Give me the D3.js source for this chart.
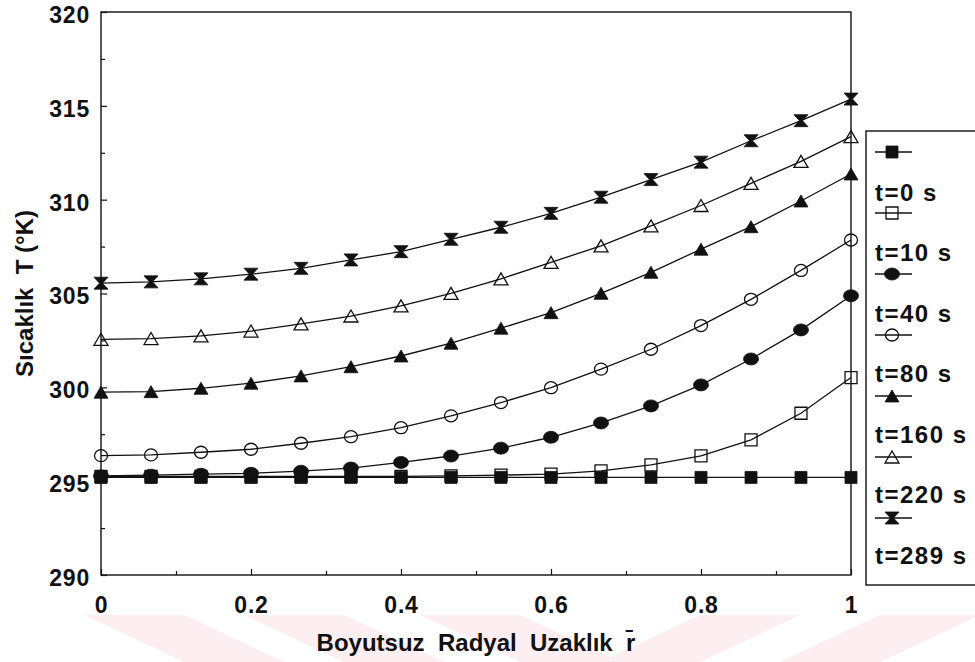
<!DOCTYPE html>
<html>
<head>
<meta charset="utf-8">
<script src="https://cdn.jsdelivr.net/npm/d3@7"></script>
<style>
  body { margin: 0; background: #fff; }
  svg { display: block; }
  text { font-family: "Liberation Sans", Arial, sans-serif; font-weight: bold; fill: #111; }
</style>
</head>
<body>
<svg id="chart" width="975" height="662"></svg>
<script>
// dimensionless radial distance (16 nodes)
const radius = [0, 0.0667, 0.1333, 0.2, 0.2667, 0.3333, 0.4, 0.4667, 0.5333, 0.6, 0.6667, 0.7333, 0.8, 0.8667, 0.9333, 1];

// temperatures (K)
const t0   = [295.2, 295.2, 295.2, 295.2, 295.2, 295.2, 295.2, 295.2, 295.2, 295.2, 295.2, 295.2, 295.2, 295.2, 295.2, 295.2];
const t10  = [295.25, 295.25, 295.25, 295.25, 295.25, 295.26, 295.26, 295.28, 295.32, 295.38, 295.55, 295.87, 296.35, 297.2, 298.62, 300.52];
const t40  = [295.28, 295.32, 295.37, 295.42, 295.53, 295.7, 296.0, 296.34, 296.76, 297.34, 298.1, 299.01, 300.13, 301.51, 303.06, 304.88];
const t80  = [296.36, 296.4, 296.54, 296.7, 297.02, 297.37, 297.85, 298.48, 299.19, 299.98, 300.97, 302.03, 303.29, 304.69, 306.23, 307.85];
const t160 = [299.74, 299.77, 299.95, 300.22, 300.61, 301.1, 301.67, 302.35, 303.15, 303.98, 305.01, 306.13, 307.36, 308.56, 309.93, 311.37];
const t220 = [302.56, 302.6, 302.74, 303.0, 303.38, 303.8, 304.34, 305.01, 305.78, 306.66, 307.54, 308.6, 309.69, 310.87, 312.04, 313.36];
const t289 = [305.55, 305.62, 305.78, 306.03, 306.34, 306.79, 307.23, 307.89, 308.53, 309.27, 310.13, 311.07, 312.0, 313.14, 314.21, 315.36];

const seriesNames = ["t=0 s", "t=10 s", "t=40 s", "t=80 s", "t=160 s", "t=220 s", "t=289 s"];
const seriesValues = [t0, t10, t40, t80, t160, t220, t289];
const markerKinds = ["squareFilled", "squareOpen", "circleFilled", "circleOpen", "triFilled", "triOpen", "hourglass"];

const xTicks = [0, 0.1, 0.2, 0.3, 0.4, 0.5, 0.6, 0.7, 0.8, 0.9, 1];
const yTicks = [290, 292.5, 295, 297.5, 300, 302.5, 305, 307.5, 310, 312.5, 315, 317.5, 320];

const svg = d3.select("#chart");
const margin = { top: 12, right: 124, bottom: 87, left: 101 };
const width = 975, height = 662;

const x = d3.scaleLinear().domain([0, 1]).range([margin.left, width - margin.right]);
const y = d3.scaleLinear().domain([290, 320]).range([height - margin.bottom, margin.top]);

// faint watermark bands at the bottom of the scan
const bands = [[84, 100], [244, 100], [420, 100], [700, -100], [880, -100]];
svg.append("g")
  .selectAll("path")
  .data(bands)
  .enter()
  .append("path")
  .attr("fill", "#fdeef1")
  .attr("d", d => `M${d[0]},615 L${d[0] + 100},615 L${d[0] + 100 + d[1]},662 L${d[0] + d[1]},662 Z`);

// marker shapes
function ellipsePath(rx, ry) {
  return `M${-rx},0 A${rx},${ry} 0 1,0 ${rx},0 A${rx},${ry} 0 1,0 ${-rx},0 Z`;
}
function shape(kind) {
  if (kind === "circleFilled") return ellipsePath(7.5, 6);
  if (kind === "circleOpen") return ellipsePath(6.5, 6);
  const p = d3.path();
  if (kind.startsWith("square")) {
    p.rect(-6, -6, 12, 12);
  } else if (kind.startsWith("tri")) {
    p.moveTo(0, -6); p.lineTo(7, 6); p.lineTo(-7, 6); p.closePath();
  } else {
    p.moveTo(-7, -6); p.lineTo(7, -6); p.lineTo(1.5, 0); p.lineTo(7, 6);
    p.lineTo(-7, 6); p.lineTo(-1.5, 0); p.closePath();
  }
  return p.toString();
}
function isOpen(kind) { return kind.endsWith("Open"); }

// axes
const xAxis = d3.axisBottom(x)
  .tickValues(xTicks)
  .tickSizeInner(-6)
  .tickSizeOuter(0)
  .tickPadding(22)
  .tickFormat(d => (Math.round(d * 10) % 2 === 0 ? String(d) : ""));
const gx = svg.append("g")
  .attr("transform", `translate(0,${height - margin.bottom})`)
  .call(xAxis);

const yAxis = d3.axisLeft(y)
  .tickValues(yTicks)
  .tickSizeInner(-6)
  .tickSizeOuter(0)
  .tickPadding(11)
  .tickFormat(d => (d % 5 === 0 ? String(d) : ""));
const gy = svg.append("g")
  .attr("transform", `translate(${margin.left},0)`)
  .call(yAxis);

[gx, gy].forEach(g => {
  g.select(".domain").remove();
  g.selectAll("line").attr("stroke", "#111").attr("stroke-width", 1.2);
  g.selectAll("text")
    .attr("font-size", 23)
    .attr("font-family", "'Liberation Sans', Arial, sans-serif")
    .attr("font-weight", "bold")
    .attr("letter-spacing", 0.8)
    .attr("fill", "#111");
});
gy.selectAll("text").attr("dy", "0.45em");
gx.selectAll(".tick line").attr("y2", d => (Math.round(d * 10) % 2 === 0 ? -6 : -4));
gy.selectAll(".tick line").attr("x2", d => (d % 5 === 0 ? 6 : 4));

// plot frame
svg.append("rect")
  .attr("x", x(0))
  .attr("y", y(320))
  .attr("width", x(1) - x(0))
  .attr("height", y(290) - y(320))
  .attr("fill", "none")
  .attr("stroke", "#111")
  .attr("stroke-width", 1.4);

// series lines + markers
const line = d3.line()
  .x((d, i) => x(radius[i]))
  .y(d => y(d));

seriesValues.forEach((vals, k) => {
  const kind = markerKinds[k];
  const g = svg.append("g");
  g.append("path")
    .datum(vals)
    .attr("fill", "none")
    .attr("stroke", "#111")
    .attr("stroke-width", 1.3)
    .attr("d", line);
  g.selectAll(".mark")
    .data(vals)
    .enter()
    .append("path")
    .attr("class", "mark")
    .attr("transform", (d, i) => `translate(${x(radius[i])},${y(d)})`)
    .attr("d", shape(kind))
    .attr("fill", isOpen(kind) ? "none" : "#111")
    .attr("stroke", "#111")
    .attr("stroke-width", isOpen(kind) ? 1.3 : 0.8);
});

// axis titles
svg.append("text")
  .attr("x", (x(0) + x(1)) / 2)
  .attr("y", 642)
  .attr("text-anchor", "middle")
  .attr("dominant-baseline", "central")
  .attr("font-size", 24)
  .style("white-space", "pre")
  .text("Boyutsuz  Radyal  Uzaklık  r\u0304");

svg.append("text")
  .attr("transform", `translate(24,${(y(290) + y(320)) / 2}) rotate(-90)`)
  .attr("text-anchor", "middle")
  .attr("dominant-baseline", "central")
  .attr("font-size", 24)
  .style("white-space", "pre")
  .text("Sıcaklık  T (°K)");

// legend
const legend = svg.append("g");
legend.append("rect")
  .attr("x", 866)
  .attr("y", 131)
  .attr("width", 140)
  .attr("height", 454)
  .attr("fill", "#fff")
  .attr("stroke", "#111")
  .attr("stroke-width", 1.4);

const entries = legend.selectAll(".entry")
  .data(seriesNames)
  .enter()
  .append("g")
  .attr("class", "entry");
entries.append("line")
  .attr("x1", 875).attr("x2", 912)
  .attr("y1", (d, k) => 152 + 61 * k)
  .attr("y2", (d, k) => 152 + 61 * k)
  .attr("stroke", "#111")
  .attr("stroke-width", 1.3);
entries.append("path")
  .attr("transform", (d, k) => `translate(892,${152 + 61 * k})`)
  .attr("d", (d, k) => shape(markerKinds[k]))
  .attr("fill", (d, k) => (isOpen(markerKinds[k]) ? "none" : "#111"))
  .attr("stroke", "#111")
  .attr("stroke-width", (d, k) => (isOpen(markerKinds[k]) ? 1.3 : 0.8));
entries.append("text")
  .attr("x", 875)
  .attr("y", (d, k) => 192 + 60.5 * k)
  .attr("dominant-baseline", "central")
  .attr("font-size", 24)
  .attr("letter-spacing", 1.5)
  .text(d => d);
</script>
</body>
</html>
